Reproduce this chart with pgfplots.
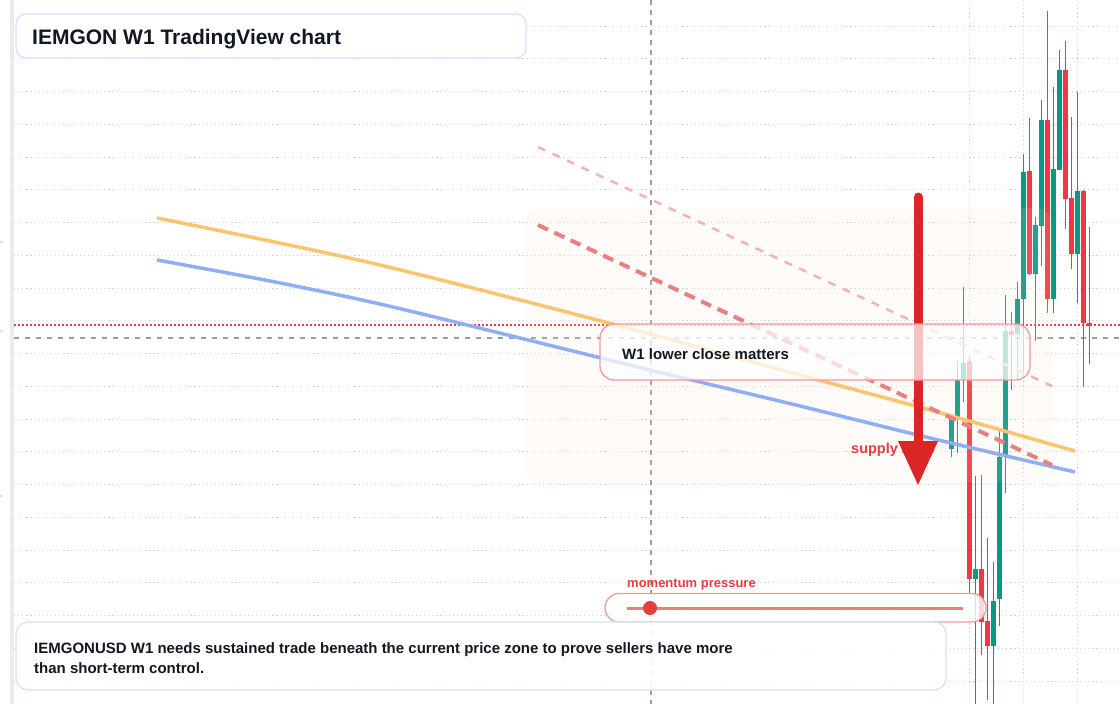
\documentclass[border=0pt]{standalone}
\usepackage{fontspec}
\setmainfont{Liberation Sans}
\usepackage{pgfplots}
\pgfplotsset{compat=1.18}
\definecolor{tvgreen}{HTML}{089981}
\definecolor{tvred}{HTML}{F23645}
\definecolor{gridc}{HTML}{D1D4DC}
\definecolor{txt}{HTML}{131722}
\definecolor{boxblue}{HTML}{D5E3FA}
\definecolor{boxred}{HTML}{F09A9A}
\definecolor{orangel}{HTML}{FCC46E}
\definecolor{bluel}{HTML}{8FAEF6}
\definecolor{dashred}{HTML}{EA7F7F}
\definecolor{dashpink}{HTML}{F5B0B0}
\definecolor{arrowred}{HTML}{DC2626}
\definecolor{labelred}{HTML}{E53E3E}
\definecolor{zonec}{HTML}{FBE3CC}
\definecolor{stripc}{HTML}{EBEBEB}
\definecolor{crossc}{HTML}{9E9E9E}
\begin{document}
\begin{tikzpicture}
\begin{axis}[
  at={(0,0)}, anchor=south west,
  width=1120pt, height=704pt, scale only axis,
  xmin=0, xmax=1120, ymin=0, ymax=704, y dir=reverse,
  axis lines=none, ticks=none,
  clip=true, unbounded coords=jump,
]
% background
\fill[white] (0,0) rectangle (1120,704);
\fill[stripc] (10,0) rectangle (14,704);
\draw[gridc!80!white, line width=1.5pt] (0,242) -- (3,242);
\draw[gridc!80!white, line width=1.5pt] (0,331) -- (3,331);
\draw[gridc!80!white, line width=1.5pt] (0,496) -- (3,496);
% grid
\pgfplotsinvokeforeach{26,58.75,91.5,124.25,157,189.75,222.5,255.25,288,320.75,353.5,386.25,419,451.75,484.5,517.25,550,582.75,615.5,648.25,681}{
  \draw[gridc, line width=1pt, dash pattern=on 1.2pt off 2.9pt] (14,#1) -- (1120,#1);
}
\pgfplotsinvokeforeach{969,1023,1077}{
  \draw[gridc, line width=1pt, dash pattern=on 1.2pt off 2.9pt] (#1,0) -- (#1,704);
}
% crosshair
\draw[crossc, line width=1.2pt, dash pattern=on 5pt off 6pt] (14,338) -- (1120,338);
\draw[crossc, line width=1.2pt, dash pattern=on 5pt off 5pt] (651,0) -- (651,704);
% price line
\draw[tvred, line width=1.3pt, dash pattern=on 1.5pt off 2.5pt] (14,325) -- (1120,325);

% candles: wicks
\addplot[tvgreen, line width=1.2pt, mark=none] coordinates {
(951.5,416) (951.5,457) (951.5,nan)
(957.5,361) (957.5,453) (957.5,nan)
(963.5,287) (963.5,402) (963.5,nan)
(975.5,476) (975.5,710) (975.5,nan)
(993.5,562) (993.5,710) (993.5,nan)
(999.5,429) (999.5,626) (999.5,nan)
(1005.5,295) (1005.5,493) (1005.5,nan)
(1017.5,282) (1017.5,380) (1017.5,nan)
(1023.5,154) (1023.5,378) (1023.5,nan)
(1035.5,217) (1035.5,341) (1035.5,nan)
(1041.5,100) (1041.5,266) (1041.5,nan)
(1053.5,87) (1053.5,313) (1053.5,nan)
(1059.5,50) (1059.5,170) (1059.5,nan)
(1077.5,92) (1077.5,303)
};
\addplot[tvred, line width=1.2pt, mark=none] coordinates {
(969.5,356) (969.5,593) (969.5,nan)
(981.5,475) (981.5,655) (981.5,nan)
(987.5,538) (987.5,700) (987.5,nan)
(1011.5,312) (1011.5,390) (1011.5,nan)
(1029.5,118) (1029.5,275) (1029.5,nan)
(1047.5,11) (1047.5,313) (1047.5,nan)
(1065.5,41) (1065.5,229) (1065.5,nan)
(1071.5,117) (1071.5,269) (1071.5,nan)
(1083.5,190) (1083.5,387) (1083.5,nan)
(1089.5,227) (1089.5,364)
};
% candles: bodies (open, close)
\addplot[tvgreen, line width=5pt, line cap=butt, mark=none] coordinates {
(951.5,449) (951.5,419) (951.5,nan)
(957.5,419) (957.5,380) (957.5,nan)
(963.5,380) (963.5,363) (963.5,nan)
(975.5,579) (975.5,569) (975.5,nan)
(993.5,646) (993.5,601) (993.5,nan)
(999.5,599) (999.5,457) (999.5,nan)
(1005.5,457) (1005.5,331) (1005.5,nan)
(1017.5,334) (1017.5,299) (1017.5,nan)
(1023.5,299) (1023.5,172) (1023.5,nan)
(1035.5,274) (1035.5,225) (1035.5,nan)
(1041.5,226) (1041.5,120) (1041.5,nan)
(1053.5,299) (1053.5,169) (1053.5,nan)
(1059.5,170) (1059.5,70) (1059.5,nan)
(1077.5,254) (1077.5,191)
};
\addplot[tvred, line width=5pt, line cap=butt, mark=none] coordinates {
(969.5,361) (969.5,579) (969.5,nan)
(981.5,569) (981.5,622) (981.5,nan)
(987.5,621) (987.5,646) (987.5,nan)
(1011.5,331) (1011.5,334.5) (1011.5,nan)
(1029.5,171) (1029.5,274) (1029.5,nan)
(1047.5,120) (1047.5,299) (1047.5,nan)
(1065.5,70) (1065.5,199) (1065.5,nan)
(1071.5,198) (1071.5,254) (1071.5,nan)
(1083.5,191) (1083.5,323) (1083.5,nan)
(1089.5,323) (1089.5,326)
};

% supply zone
\fill[zonec, fill opacity=0.12, rounded corners=16pt] (525,208) rectangle (1052,482);

% moving-average curves
\addplot[orangel, line width=3.5pt, mark=none, smooth, tension=0.5] coordinates {
(157,218) (270,241) (380,265) (520,300) (650,334) (800,375) (930,410) (1075,451)
};
\addplot[bluel, line width=3.5pt, mark=none, smooth, tension=0.5] coordinates {
(157,260) (270,281) (380,304) (520,338) (650,370) (800,406) (930,438) (1075,472)
};
% dashed channel lines
\addplot[dashpink, line width=2.4pt, mark=none, dash pattern=on 8pt off 8pt] coordinates {(538,147) (1052,386)};
\addplot[dashred, line width=4pt, mark=none, dash pattern=on 11pt off 7pt] coordinates {(538,225) (1052,465)};

% supply zone label and arrow
\node[anchor=base west, inner sep=0pt, text=labelred, font=\fontsize{14.5}{16}\selectfont\bfseries] at (851,453) {supply zone};
\draw[arrowred, line width=9pt, line cap=round] (918,197) -- (918,448);
\fill[arrowred] (898,441) -- (938,441) -- (918,485) -- cycle;

% annotation box
\draw[boxred, line width=1.3pt, fill=white, fill opacity=0.72, rounded corners=14pt] (600,324) rectangle (1030,380);
\node[anchor=base west, inner sep=0pt, text=txt, font=\fontsize{15}{18}\selectfont\bfseries] at (622,359) {W1 lower close matters};

% momentum pressure
\node[anchor=base west, inner sep=0pt, text=labelred, font=\fontsize{13}{15}\selectfont\bfseries] at (627,587) {momentum pressure};
\draw[boxred, line width=1.3pt, fill=white, fill opacity=0.8, rounded corners=14pt] (605,593.5) rectangle (986,622);
\draw[dashred, line width=3pt] (627,608) -- (963,608);
\fill[labelred] (650,608) circle (7pt);

% title box
\draw[boxblue, line width=1.3pt, fill=white, fill opacity=0.96, rounded corners=10pt] (16,14) rectangle (526,58);
\node[anchor=base west, inner sep=0pt, text=txt, font=\fontsize{21}{25}\selectfont\bfseries] at (32,44) {IEMGON W1 TradingView chart};

% bottom text box
\draw[boxblue, line width=1.3pt, fill=white, fill opacity=0.88, rounded corners=12pt] (16,622) rectangle (946,690);
\node[anchor=base west, inner sep=0pt, text=txt, font=\fontsize{15}{18}\selectfont\bfseries] at (34,653) {IEMGONUSD W1 needs sustained trade beneath the current price zone to prove sellers have more};
\node[anchor=base west, inner sep=0pt, text=txt, font=\fontsize{15}{18}\selectfont\bfseries] at (34,673) {than short-term control.};
\end{axis}
\end{tikzpicture}
\end{document}
